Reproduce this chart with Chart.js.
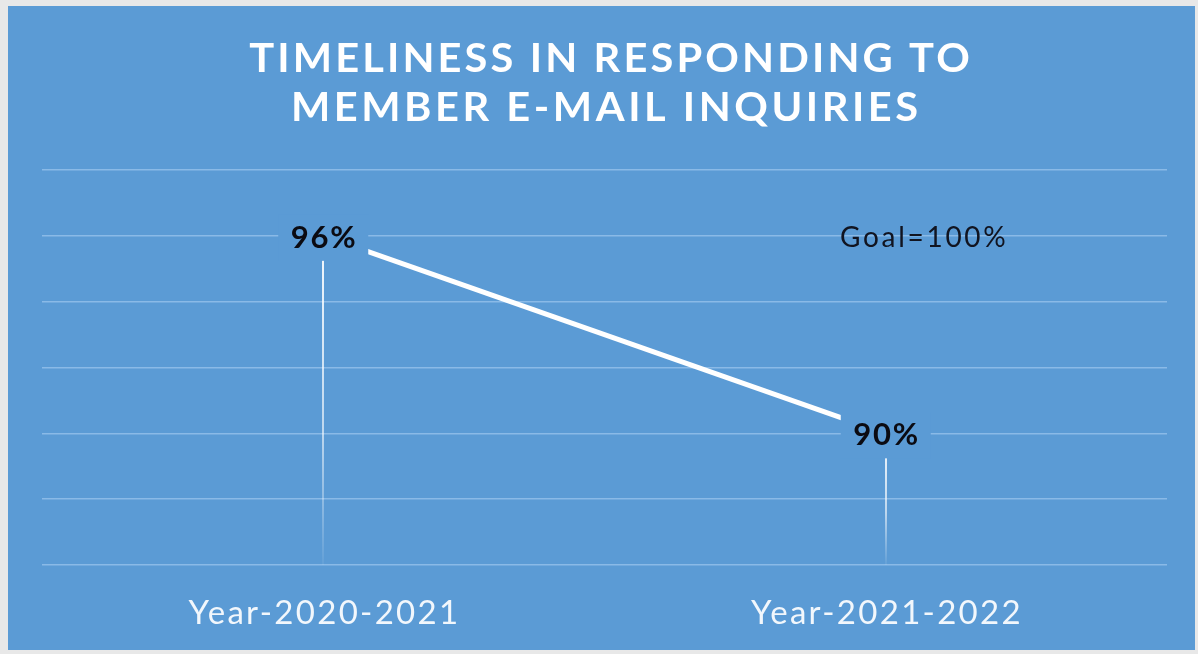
<!DOCTYPE html>
<html>
<head>
<meta charset="utf-8">
<script src="https://cdn.jsdelivr.net/npm/chart.js@4.4.0/dist/chart.umd.min.js"></script>
<style>
  html, body { margin: 0; padding: 0; background: #e8e8e8; }
  #wrap { width: 1198px; height: 654px; position: relative; }
  canvas { display: block; }
</style>
</head>
<body>
<div id="wrap"><canvas id="chart" width="1198" height="654"></canvas></div>
<script>
// Chart content
const titleLines = ['TIMELINESS IN RESPONDING TO', 'MEMBER E-MAIL INQUIRIES'];
const categories = ['Year-2020-2021', 'Year-2021-2022'];
const timeliness = [96, 90];
const goalText = 'Goal=100%';
const yMin = 86;
const yMax = 98;
const yStep = 2;

const PANEL = '#5b9bd5';
const GRID = '#8abae7';

function drawText(ctx, text, x, y, font, color, spacing, sx) {
  ctx.save();
  ctx.font = font;
  ctx.fillStyle = color;
  ctx.textAlign = 'center';
  ctx.textBaseline = 'alphabetic';
  if ('letterSpacing' in ctx) ctx.letterSpacing = spacing + 'px';
  ctx.translate(x + (spacing * (sx || 1)) / 2, y);
  ctx.scale(sx || 1, 1);
  ctx.fillText(text, 0, 0);
  ctx.restore();
}

// Blue panel behind everything
const panelPlugin = {
  id: 'panel',
  beforeDraw(chart) {
    const ctx = chart.ctx;
    ctx.save();
    ctx.fillStyle = '#e8e8e8';
    ctx.fillRect(0, 0, chart.width, chart.height);
    ctx.fillStyle = PANEL;
    ctx.fillRect(8, 6, 1187, 644);
    ctx.restore();
  }
};

// Vertical drop lines from each point to the category axis
const dropLinePlugin = {
  id: 'dropLines',
  beforeDatasetsDraw(chart) {
    const ctx = chart.ctx;
    const bottom = chart.chartArea.bottom;
    chart.getDatasetMeta(0).data.forEach(pt => {
      const g = ctx.createLinearGradient(0, pt.y, 0, bottom);
      g.addColorStop(0, 'rgba(255,255,255,0.95)');
      g.addColorStop(0.6, 'rgba(255,255,255,0.6)');
      g.addColorStop(1, 'rgba(255,255,255,0.05)');
      ctx.save();
      ctx.strokeStyle = g;
      ctx.lineWidth = 2;
      ctx.beginPath();
      ctx.moveTo(Math.round(pt.x), pt.y);
      ctx.lineTo(Math.round(pt.x), bottom);
      ctx.stroke();
      ctx.restore();
    });
  }
};

// Value labels sitting on the points, with a panel-coloured box
const valueLabelPlugin = {
  id: 'valueLabels',
  afterDatasetsDraw(chart) {
    const ctx = chart.ctx;
    const values = chart.data.datasets[0].data;
    chart.getDatasetMeta(0).data.forEach((pt, i) => {
      const txt = values[i] + '%';
      ctx.save();
      ctx.fillStyle = PANEL;
      ctx.fillRect(pt.x - 45, pt.y - 21, 90, 46);
      ctx.restore();
      drawText(ctx, txt, pt.x, pt.y + 12, 'bold 31px Lato', '#0b0b12', 1.8, 1);
    });
  }
};

// Title, goal note and category labels
const textPlugin = {
  id: 'texts',
  afterDraw(chart) {
    const ctx = chart.ctx;
    const area = chart.chartArea;
    const cx = (area.left + area.right) / 2;
    drawText(ctx, titleLines[0], cx + 5, 72, 'bold 40px Lato', '#ffffff', 3, 1.04);
    drawText(ctx, titleLines[1], cx, 121, 'bold 40px Lato', '#ffffff', 3.4, 1.04);

    const yScale = chart.scales.y;
    const gy = yScale.getPixelForValue(96);
    drawText(ctx, goalText, area.left + (area.right - area.left) * 0.783, gy + 11, '28px Lato', '#111420', 2.7, 1);

    const xScale = chart.scales.x;
    categories.forEach((c, i) => {
      drawText(ctx, c, xScale.getPixelForValue(i), 624, '33px Lato', '#f2f7fc', 2.3, 1);
    });
  }
};

new Chart(document.getElementById('chart'), {
  type: 'line',
  data: {
    labels: categories,
    datasets: [{
      data: timeliness,
      borderColor: '#ffffff',
      borderWidth: 5,
      pointRadius: 0,
      tension: 0,
      fill: false
    }]
  },
  options: {
    responsive: false,
    animation: false,
    devicePixelRatio: 1,
    layout: { padding: { left: 42, right: 31, top: 170, bottom: 89 } },
    plugins: {
      legend: { display: false },
      title: { display: false },
      tooltip: { enabled: false }
    },
    scales: {
      x: {
        type: 'category',
        offset: true,
        grid: { display: false, drawTicks: false },
        border: { display: false },
        ticks: { display: false }
      },
      y: {
        min: yMin,
        max: yMax,
        ticks: { display: false, stepSize: yStep },
        grid: { color: GRID, lineWidth: 1.6, drawTicks: false },
        border: { display: false }
      }
    }
  },
  plugins: [panelPlugin, dropLinePlugin, valueLabelPlugin, textPlugin]
});
</script>
</body>
</html>
